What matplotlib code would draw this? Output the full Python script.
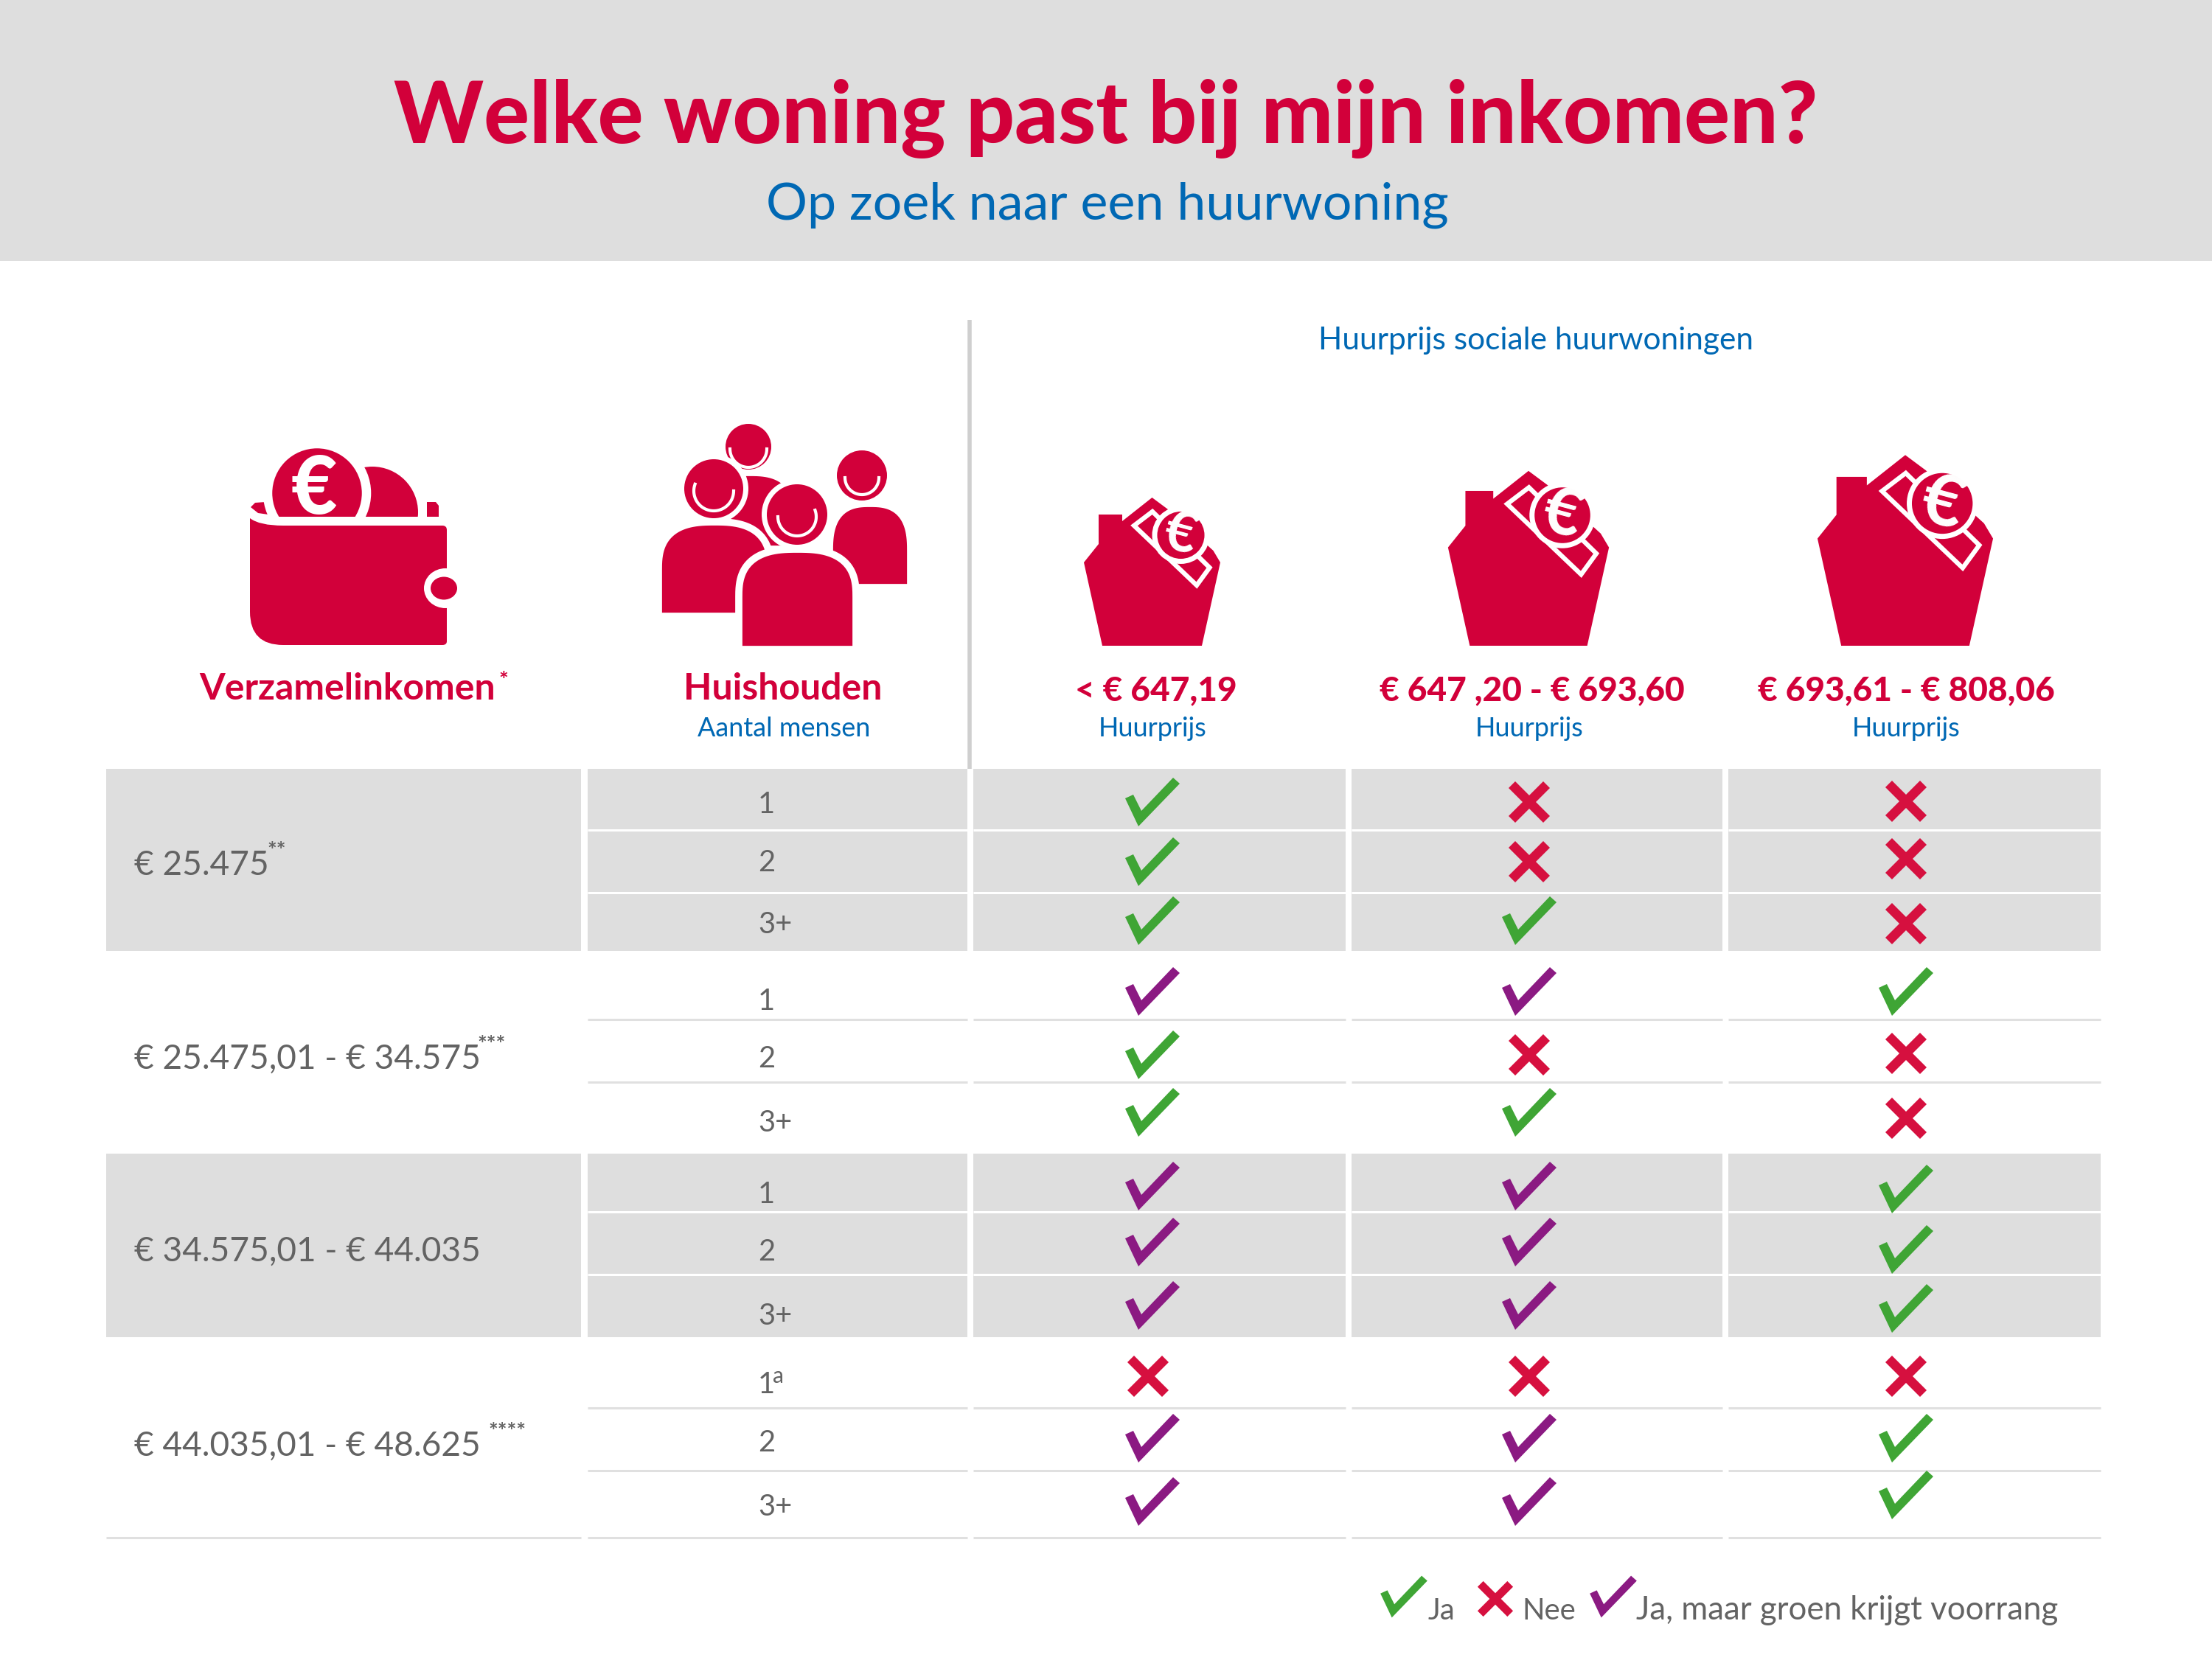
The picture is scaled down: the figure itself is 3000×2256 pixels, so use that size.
import numpy as np
import matplotlib
matplotlib.use('Agg')
import matplotlib.pyplot as plt
from matplotlib.patches import Rectangle, Ellipse, Polygon, PathPatch
from matplotlib.path import Path

# table content
income_labels = ['€ 25.475', '€ 25.475,01 - € 34.575', '€ 34.575,01 - € 44.035', '€ 44.035,01 - € 48.625']
income_notes = ['**', '***', '', '****']
household_labels = ['1', '2', '3+', '1', '2', '3+', '1', '2', '3+', '1', '2', '3+']
rent_labels = ['< € 647,19', '€ 647 ,20 - € 693,60', '€ 693,61 - € 808,06']

# g = ja, r = nee, p = ja, maar groen krijgt voorrang
col_low = ['g', 'g', 'g', 'p', 'g', 'g', 'p', 'p', 'p', 'r', 'p', 'p']
col_mid = ['r', 'r', 'g', 'p', 'r', 'g', 'p', 'p', 'p', 'r', 'p', 'p']
col_high = ['r', 'r', 'r', 'g', 'r', 'r', 'g', 'g', 'g', 'r', 'g', 'g']

# colours
RED = '#d2003a'
CROSS = '#d6103f'
BLUE = '#0068b4'
GREY = '#636363'
BAND = '#dedede'
GREEN = '#3fa535'
PURPLE = '#8b1a82'
FONT = 'Lato'

# layout, in pixels of the 3000x2256 picture
col_x = [1563, 2074, 2585]
mark_y = [1088, 1169, 1249, 1345, 1431, 1509, 1609, 1685, 1771, 1867, 1951, 2037]
mark_y_high = [1087, 1165, 1253, 1345, 1429, 1517, 1613, 1695, 1775, 1867, 1951, 2028]
household_y = [1103, 1182, 1266, 1370, 1448, 1535, 1632, 1710, 1797, 1890, 1969, 2056]
income_y = [1187, 1450, 1711, 1975]
note_pos = [(362, 1164), (647, 1427), (0, 0), (662, 1952)]
table_cols = [(144, 788), (797, 1312), (1320, 1825), (1833, 2336), (2344, 2849)]
check_shape = np.array([(28, -33), (37, -25), (-19, 33), (-37, -5), (-26, -10), (-15, 12)], dtype=float)
cross_shape = np.array([(-19, -28), (0, -9), (19, -28), (28, -19), (9, 0), (28, 19),
                        (19, 28), (0, 9), (-19, 28), (-28, 19), (-9, 0), (-28, -19)], dtype=float)
house_shape = np.array([(-67.5, 0), (-92.5, -113), (-72.5, -138), (-72.5, -178), (-40.5, -178),
                        (-40.5, -169), (0, -201), (21.5, -185), (83, -129), (92.5, -113), (67.5, 0)])
note_shape = np.array([(0.5, -182), (78, -106), (60.5, -82), (-24.5, -163)])


def px(size):
    return size * 0.72


def label(x, y, s, size, color=GREY, ha='left', weight='normal', va='baseline', rotation=0):
    ax.text(x, y, s, fontsize=px(size), color=color, ha=ha, va=va, family=FONT,
            weight=weight, rotation=rotation, rotation_mode='anchor')


def draw_mark(kind, x, y, scale=1.0):
    if kind == 'r':
        pts = cross_shape * scale + (x, y)
        color = CROSS
    else:
        pts = check_shape * scale + (x, y)
        color = GREEN if kind == 'g' else PURPLE
    ax.add_patch(Polygon(pts, closed=True, fc=color, ec='none', zorder=4))


def person(head_x, head_y, head_r, body_x, body_w, top, bottom, smile, ring=7):
    # body with a squarish round top, white edge keeps the figures apart
    t = np.linspace(np.pi, 2 * np.pi, 60)
    xs = body_x + body_w / 2 * np.sign(np.cos(t)) * np.abs(np.cos(t)) ** 0.75
    ys = top + 65 - 65 * np.abs(np.sin(t)) ** 0.75
    pts = list(zip(xs, ys)) + [(body_x + body_w / 2, bottom), (body_x - body_w / 2, bottom)]
    ax.add_patch(Polygon(pts, closed=True, fc=RED, ec='white', lw=ring))
    ax.add_patch(Ellipse((head_x, head_y), 2 * head_r + ring * 2, 2 * head_r + ring * 2, fc='white', ec='none'))
    ax.add_patch(Ellipse((head_x, head_y), 2 * head_r, 2 * head_r, fc=RED, ec='none'))
    t = np.radians(np.linspace(smile[1], smile[2], 40))
    ax.plot(head_x + smile[0] * np.cos(t), head_y + 3 + smile[0] * np.sin(t), color='white', lw=3)


def house(x, scale):
    base = 876
    ax.add_patch(Polygon(house_shape * scale + (x, base), closed=True, fc=RED, ec='none'))
    ax.add_patch(Polygon(note_shape * scale + (x, base), closed=True, fc=RED, ec='white', lw=4.5))
    cx, cy = x + 39 * scale, base - 150 * scale
    r = 32 * scale
    ax.add_patch(Ellipse((cx, cy), 2 * r + 7, 2 * r + 7, fc=RED, ec='white', lw=5))
    ax.text(cx, cy, '€', fontsize=px(76 * scale), color='white', ha='center', va='center',
            family=FONT, weight='bold', rotation=-15)


fig = plt.figure(figsize=(30, 22.56), dpi=100)
ax = fig.add_axes([0, 0, 1, 1])
ax.set_xlim(0, 3000)
ax.set_ylim(2256, 0)
ax.axis('off')

# header band
ax.add_patch(Rectangle((0, 0), 3000, 354, fc=BAND, ec='none'))
label(1500, 194, 'Welke woning past bij mijn inkomen?', 115.5, RED, 'center', 'black')
label(1502, 297, 'Op zoek naar een huurwoning', 70, BLUE, 'center')

# table bands and lines
for top, bottom in [(1043, 1290), (1565, 1814)]:
    for x0, x1 in table_cols:
        ax.add_patch(Rectangle((x0, top), x1 - x0, bottom - top, fc=BAND, ec='none'))
for y in [1126, 1211, 1644, 1729]:
    for x0, x1 in table_cols[1:]:
        ax.plot([x0, x1], [y, y], color='white', lw=2.2, solid_capstyle='butt')
for y in [1383, 1468, 1910, 1995]:
    for x0, x1 in table_cols[1:]:
        ax.plot([x0, x1], [y, y], color='#e0e0e0', lw=2.2, solid_capstyle='butt')
for x0, x1 in table_cols:
    ax.plot([x0, x1], [2086, 2086], color='#e0e0e0', lw=2.2, solid_capstyle='butt')
ax.plot([1315, 1315], [434, 1043], color='#cfcfcf', lw=4, solid_capstyle='butt')

# column headers
label(471, 949, 'Verzamelinkomen', 50, RED, 'center', 'bold')
label(676, 933, '*', 30, RED, 'left', 'bold')
label(1062, 949, 'Huishouden', 50, RED, 'center', 'bold')
label(1063, 999, 'Aantal mensen', 36, BLUE, 'center')
label(2083, 474, 'Huurprijs sociale huurwoningen', 42.5, BLUE, 'center')
for x, s in zip([1568, 2078, 2585], rent_labels):
    label(x, 950, s, 46, RED, 'center', 'black')
for x in col_x:
    label(x, 999, 'Huurprijs', 36, BLUE, 'center')

# rows
for y, s, note, pos in zip(income_y, income_labels, income_notes, note_pos):
    label(182, y, s, 46)
    if note:
        label(pos[0], pos[1], note, 30, weight='bold')
for y, s in zip(household_y, household_labels):
    label(1028, y, s, 40)
label(1048, 1876, 'a', 30)

for row in range(12):
    for x, kinds, ys in zip(col_x, [col_low, col_mid, col_high], [mark_y, mark_y, mark_y_high]):
        kind = kinds[row]
        draw_mark(kind, x - 6 if (kind == 'r' and x == col_x[0]) else x, ys[row])

# legend
draw_mark('g', 1904, 2166, 0.86)
label(1937, 2197, 'Ja', 40)
draw_mark('r', 2028, 2169, 0.86)
label(2064, 2197, 'Nee', 40)
draw_mark('p', 2188, 2166, 0.86)
label(2219, 2197, 'Ja, maar groen krijgt voorrang', 43.8)

# wallet icon
ax.add_patch(Polygon([(340, 688), (346, 682), (360, 681), (364, 698), (350, 696)], closed=True, fc=RED, ec='none'))
ax.add_patch(Polygon([(578, 681), (591, 681), (595, 686), (595, 701), (578, 701)], closed=True, fc=RED, ec='none'))
ax.add_patch(Ellipse((505, 695), 124, 124, fc=RED, ec='none'))
ax.add_patch(Ellipse((430, 669), 134, 134, fc=RED, ec='white', lw=9))
ax.text(426, 665, '€', fontsize=px(108), color='white', ha='center', va='center', family=FONT, weight='black')
ax.add_patch(Rectangle((339, 701), 270, 14, fc='white', ec='none'))
ax.add_patch(Rectangle((567, 640), 12, 62, fc='white', ec='none'))
wallet = Path([(339, 703), (352, 713), (384, 713), (600, 713), (606, 713), (606, 719), (606, 870), (606, 875),
               (600, 875), (384, 875), (339, 875), (339, 830), (339, 703)],
              [Path.MOVETO, Path.CURVE3, Path.CURVE3, Path.LINETO, Path.CURVE3, Path.CURVE3, Path.LINETO,
               Path.CURVE3, Path.CURVE3, Path.LINETO, Path.CURVE3, Path.CURVE3, Path.CLOSEPOLY])
ax.add_patch(PathPatch(wallet, fc=RED, ec='none'))
ax.add_patch(Ellipse((604, 798), 58, 54, fc='white', ec='none'))
ax.add_patch(Ellipse((602, 798), 36, 31, fc=RED, ec='none'))

# household icon, back to front
person(1015, 606, 31, 1017, 130, 641, 745, (25, 0, 180))
person(1169, 645, 34, 1180, 110, 683, 797, (23, 0, 180))
person(968, 663, 40, 969, 152, 708, 836, (27, 0, 200))
person(1081, 698, 41, 1081.5, 159, 745, 881, (26, -20, 180))

# house icons
house(1562.5, 1.0)
house(2073, 1.18)
house(2584, 1.287)

fig.savefig('out.png', dpi=100)
